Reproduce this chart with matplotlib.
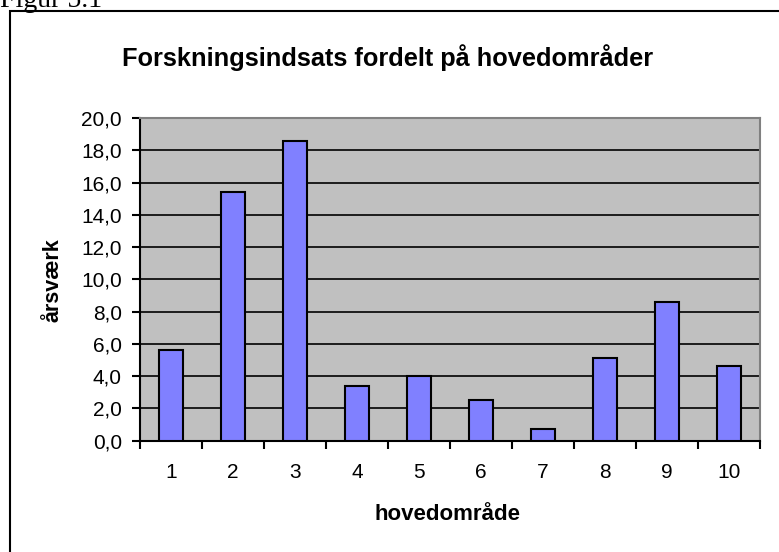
import matplotlib
matplotlib.use("Agg")
import matplotlib.pyplot as plt
from matplotlib.patches import Rectangle
from matplotlib.ticker import FixedLocator, FuncFormatter, NullFormatter

plt.rcParams["font.family"] = ["Liberation Sans", "DejaVu Sans"]

# data
categories = ["1", "2", "3", "4", "5", "6", "7", "8", "9", "10"]
aarsvaerk = [5.6, 15.4, 18.6, 3.4, 4.0, 2.5, 0.7, 5.1, 8.6, 4.6]
y_ticks = [0, 2, 4, 6, 8, 10, 12, 14, 16, 18, 20]

W, H = 779, 552
fig = plt.figure(figsize=(W / 100, H / 100), dpi=100)
fig.patch.set_facecolor("white")

# outer chart frame (runs off the right and bottom edges)
fig.patches.append(Rectangle((10 / W, -0.1), 1.2, (1 - 11 / H) + 0.1,
                             transform=fig.transFigure, fill=False,
                             edgecolor="black", linewidth=1.5))

# cut-off caption above the frame
fig.text(0.0, 1 - 7 / H, "Figur 5.1", family="Liberation Serif", fontsize=20,
         ha="left", va="baseline")

ax = fig.add_axes([140 / W, 1 - 440.7 / H, 620 / W, 322.7 / H])
ax.set_facecolor("#C0C0C0")

x = list(range(1, len(categories) + 1))
ax.bar(x, aarsvaerk, width=0.39, color="#8080FF", edgecolor="black",
       linewidth=1.5, zorder=3)

ax.set_xlim(0.5, len(categories) + 0.5)
ax.set_ylim(0, 20)

ax.yaxis.set_major_locator(FixedLocator(y_ticks))
ax.yaxis.set_major_formatter(FuncFormatter(lambda v, p: f"{v:.1f}".replace(".", ",")))
ax.grid(axis="y", color="black", linewidth=1.2, zorder=1)
ax.set_axisbelow(True)

ax.set_xticks(x)
ax.set_xticklabels(categories)
ax.xaxis.set_minor_locator(FixedLocator([i + 0.5 for i in range(len(categories) + 1)]))
ax.xaxis.set_minor_formatter(NullFormatter())
ax.tick_params(axis="x", which="major", length=0, pad=16, labelsize=15)
ax.tick_params(axis="x", which="minor", length=6, width=1.5, direction="out")
ax.tick_params(axis="y", length=6, width=1.5, direction="out", pad=7, labelsize=15)

for side in ["left", "bottom"]:
    ax.spines[side].set_color("black")
    ax.spines[side].set_linewidth(1.5)
for side in ["top", "right"]:
    ax.spines[side].set_color("#808080")
    ax.spines[side].set_linewidth(1.5)

ax.set_xlabel("hovedområde", fontsize=16, fontweight="bold")
ax.xaxis.set_label_coords((448 - 140) / 620, -(514 - 440.7) / 322.7)
ax.xaxis.label.set_va("center")
ax.set_ylabel("årsværk", fontsize=15.5, fontweight="bold")
ax.yaxis.set_label_coords(-(140 - 53) / 620, (440.7 - 280) / 322.7)
ax.yaxis.label.set_va("center")

fig.text(387.5 / W, 1 - 58 / H, "Forskningsindsats fordelt på hovedområder",
         fontsize=18.3, fontweight="bold", ha="center", va="center")

fig.savefig("out.png", dpi=100, facecolor="white")
